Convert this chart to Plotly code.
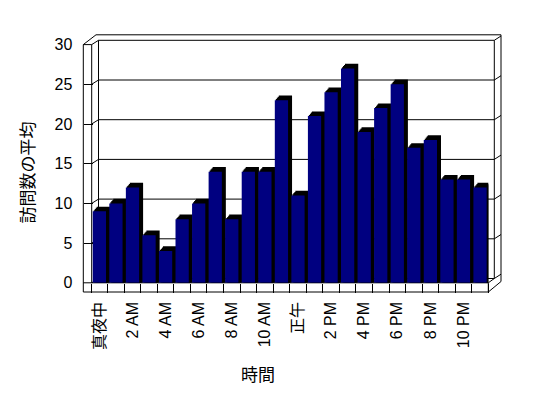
import plotly.graph_objects as go

# ---- data ----
hours = list(range(24))
visits = [9, 10, 12, 6, 4, 8, 10, 14, 8, 14, 14, 23,
          11, 21, 24, 27, 19, 22, 25, 17, 18, 13, 13, 12]
tick_hours = [0, 2, 4, 6, 8, 10, 12, 14, 16, 18, 20, 22]
tick_labels = ["真夜中", "2 AM", "4 AM", "6 AM", "8 AM", "10 AM",
               "正午", "2 PM", "4 PM", "6 PM", "8 PM", "10 PM"]
y_ticks = [0, 5, 10, 15, 20, 25, 30]
x_title = "時間"
y_title = "訪問数の平均"

# ---- geometry (window pixels; page body has an 8px margin) ----
W, H = 548, 398
OFF = 8
X0, X1 = 91.1, 488.3       # x-axis domain (category edges)
Y0, Y1 = 282.8, 44.6       # y-axis domain (0 and 30)
YMAX = 30
SCALE = (Y0 - Y1) / YMAX
PITCH = (X1 - X0) / len(hours)
DX, DY = 6.8, 4.3          # wall depth offset

def px(x):
    return (x - OFF) / W

def py(y):
    return 1 - (y - OFF) / H

def gy(v):
    return Y0 - v * SCALE

FONT = "Liberation Sans, Noto Sans CJK JP, sans-serif"
NAVY = "#000080"

fig = go.Figure()

# shadow (depth) layers of the 3D columns
steps = 4
for k in range(1, steps + 1):
    ox = k * 1.0 / PITCH
    oy = k * 1.17 / SCALE
    fig.add_trace(go.Bar(
        x=hours, y=[v + oy for v in visits],
        width=0.8, offset=-0.4 + ox,
        marker=dict(color="black", line=dict(width=0)),
        hoverinfo="skip", showlegend=False))

# front faces
fig.add_trace(go.Bar(
    x=hours, y=visits, width=0.8, offset=-0.4,
    marker=dict(color=NAVY, line=dict(width=0)),
    showlegend=False, name="訪問数"))

shapes = []

def line(x0, y0, x1, y1):
    shapes.append(dict(type="line", xref="paper", yref="paper",
                       x0=px(x0), y0=py(y0), x1=px(x1), y1=py(y1),
                       line=dict(color="black", width=1), layer="below"))

xl_front, xl_back = 91.7, 91.7 + DX
xr_back = 494.3
xr_out = 501

# back-wall gridlines with wall diagonals
for g in y_ticks:
    yf = gy(g)
    yb = yf - DY
    line(xl_front, yf, xl_back, yb)
    line(xl_back, yb, xr_back, yb)
    line(xr_back, yb, xr_out, yb - DY)

# left wall slab front face
line(83.3, gy(30), 83.3, 292)
line(xl_front, gy(30), xl_front, Y0)
line(83.3, gy(30), xl_front, gy(30))
# top edges
line(83.3, gy(30), 96, 34.8)
line(96, 34.8, xr_out, 34.8)
# back wall verticals
line(xl_back, gy(30) - DY, xl_back, Y0 - DY)
line(xr_back, gy(30) - DY, xr_back, Y0 - DY)
line(xr_out, 34.8, xr_out, 281.5)
# floor front face
line(83.3, 292, X1, 292)
line(83.3, Y0, X1, Y0)
line(X1, Y0, X1, 292)
line(X1, 292, xr_out, 281.5)
line(X1, Y0, xr_back, Y0 - DY)

fig.update_layout(
    width=W, height=H,
    margin=dict(l=0, r=0, t=0, b=0, autoexpand=False),
    paper_bgcolor="white", plot_bgcolor="rgba(0,0,0,0)",
    barmode="overlay",
    font=dict(family=FONT, size=15, color="black"),
    shapes=shapes,
    xaxis=dict(
        domain=[px(X0), px(X1)], range=[-0.5, len(hours) - 0.5],
        automargin=False,
        tickmode="array", tickvals=tick_hours, ticktext=tick_labels,
        tickangle=-90, ticks="", showgrid=False, zeroline=False,
        showline=False, ticklabelstandoff=15,
        tickfont=dict(size=16, color="black"),
        minor=dict(tickmode="array",
                   tickvals=[h - 0.5 for h in hours] + [hours[-1] + 0.5],
                   ticks="outside", ticklen=9.2, tickcolor="black",
                   tickwidth=1, showgrid=False),
        fixedrange=True),
    yaxis=dict(
        domain=[py(Y0), py(Y1)], range=[0, YMAX],
        automargin=False,
        anchor="free", position=px(83.3),
        tickmode="array", tickvals=y_ticks,
        ticks="inside", ticklen=8.4, tickcolor="black", tickwidth=1,
        showgrid=False, zeroline=False, showline=False,
        ticklabelstandoff=11, tickfont=dict(size=16, color="black"),
        fixedrange=True),
    annotations=[
        dict(text=x_title, x=px(258), y=py(375.5), xref="paper", yref="paper",
             showarrow=False, font=dict(size=17), xanchor="center", yanchor="middle"),
        dict(text=y_title, x=px(28), y=py(172.5), xref="paper", yref="paper",
             showarrow=False, font=dict(size=17), textangle=-90,
             xanchor="center", yanchor="middle"),
    ],
)

fig.write_html("out.html")
